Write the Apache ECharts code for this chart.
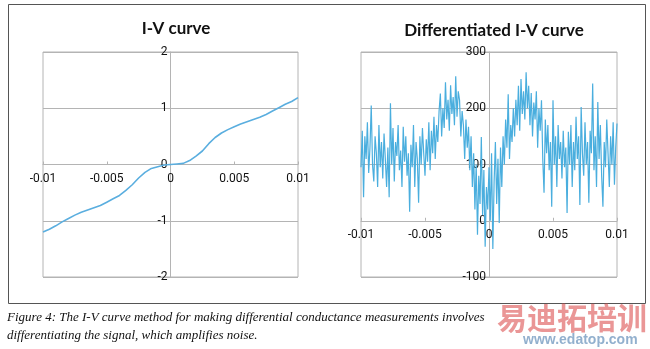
<!DOCTYPE html>
<html><head><meta charset="utf-8">
<script src="https://cdn.jsdelivr.net/npm/echarts@6/dist/echarts.min.js"></script>
<style>html,body{margin:0;padding:0;background:#fff}#c{width:650px;height:349px}</style>
</head><body><div id="c"></div>
<script>
// I-V curve (x in V, y in arbitrary units)
var ivX = [-0.01,-0.0095,-0.009,-0.0085,-0.008,-0.0075,-0.007,-0.0065,-0.006,-0.0055,-0.005,-0.0045,-0.004,-0.0035,-0.003,-0.0025,-0.002,-0.0015,-0.001,-0.0005,0,0.0005,0.001,0.0015,0.002,0.0025,0.003,0.0035,0.004,0.0045,0.005,0.0055,0.006,0.0065,0.007,0.0075,0.008,0.0085,0.009,0.0095,0.01];
var ivY = [-1.20,-1.15,-1.09,-1.02,-0.96,-0.90,-0.85,-0.81,-0.77,-0.73,-0.67,-0.61,-0.55,-0.46,-0.36,-0.24,-0.14,-0.07,-0.04,-0.01,0.00,0.01,0.02,0.07,0.15,0.24,0.37,0.48,0.56,0.62,0.67,0.72,0.76,0.80,0.84,0.89,0.95,1.01,1.07,1.12,1.19];
// Differentiated I-V curve, sampled every 0.0001 from -0.01 to 0.01
var dStart = -0.01, dStep = 0.0001;
var dY = [
95,160,42,150,110,175,85,130,205,100,
70,150,120,60,170,95,140,75,155,110,
60,130,42,209,100,165,70,140,115,170,
90,125,60,167,105,150,80,120,16,135,
95,170,60,140,110,32,150,100,165,120,
80,145,105,175,90,160,120,185,110,170,
140,195,226,150,200,165,246,180,215,160,
241,190,220,170,257,185,230,214,150,195,
170,110,180,130,167,90,150,60,120,20,
100,-25,80,30,149,10,90,-46,60,20,
95,0,120,-50,70,140,30,110,-4,130,
60,150,100,180,130,225,110,170,140,200,
150,215,170,240,160,252,190,230,180,264,
200,240,170,227,150,210,180,230,130,200,
160,214,110,50,180,120,170,90,140,25,
214,100,150,60,170,110,140,75,160,95,
130,14,158,100,170,60,140,90,185,110,
150,28,202,120,80,175,100,140,32,160,
120,244,90,150,60,211,110,170,80,25,
140,95,180,120,60,150,100,175,64,130,173];
var xTicks = {min:-0.01, max:0.01, interval:0.005};
var leftY = {min:-2, max:2, interval:1};
var rightY = {min:-100, max:300, interval:100};
var titles = ['I-V curve','Differentiated I-V curve'];
var caption1 = 'Figure 4: The I-V curve method for making differential conductance measurements involves';
var caption2 = 'differentiating the signal, which amplifies noise.';

var ivData = ivX.map(function(x,i){return [x, ivY[i]];});
var dData = dY.map(function(v,i){return [+(dStart + i*dStep).toFixed(4), v];});

var gray = '#b4b4b4';
var font = 'Roboto, Lato, sans-serif';
var gridH = 225, gridW1 = 255, gridW2 = 256;
// offset of the x axis from the grid bottom so that it sits at y = 0
function zeroOffset(r){return -gridH * (0 - r.min) / (r.max - r.min);}
function xAx(gi, r){return {type:'value', gridIndex:gi, position:'bottom', offset:zeroOffset(r), min:xTicks.min, max:xTicks.max, interval:xTicks.interval,
  axisLine:{onZero:false, lineStyle:{color:gray, width:1}}, axisTick:{show:true, length:3, inside:true, lineStyle:{color:gray}},
  splitLine:{show:false}, axisLabel:{color:'#111', fontSize:12, fontFamily:font, margin:8}};}
function yAx(gi, r, w){return {type:'value', gridIndex:gi, position:'left', offset:-w/2, min:r.min, max:r.max, interval:r.interval,
  axisLine:{show:true, onZero:false, lineStyle:{color:gray, width:1}}, axisTick:{show:false},
  splitLine:{show:true, lineStyle:{color:gray, width:1}}, axisLabel:{color:'#111', fontSize:12, fontFamily:font, margin:3}};}

var chart = echarts.init(document.getElementById('c'));
chart.setOption({
  animation:false,
  backgroundColor:'#fff',
  title:[
    {text:titles[0], left:171, top:15, textAlign:'center', textStyle:{fontSize:17, fontWeight:'bold', color:'#111', fontFamily:'Lato, sans-serif'}},
    {text:titles[1], left:489, top:17, textAlign:'center', textStyle:{fontSize:17, fontWeight:'bold', color:'#111', fontFamily:'Lato, sans-serif'}}
  ],
  grid:[
    {left:43, right:352, top:52, bottom:72, show:true, borderColor:gray, borderWidth:1},
    {left:361, right:33, top:52, bottom:72, show:true, borderColor:gray, borderWidth:1}
  ],
  xAxis:[xAx(0, leftY), xAx(1, rightY)],
  yAxis:[yAx(0,leftY,gridW1), yAx(1,rightY,gridW2)],
  series:[
    {type:'line', xAxisIndex:0, yAxisIndex:0, data:ivData, showSymbol:false, smooth:false, lineStyle:{color:'#5aaedf', width:1.6}},
    {type:'line', xAxisIndex:1, yAxisIndex:1, data:dData, showSymbol:false, lineStyle:{color:'#4aaede', width:1.2}}
  ],
  graphic:[
    {type:'rect', shape:{x:8.5, y:4.5, width:637, height:299}, style:{fill:'none', stroke:'#555', lineWidth:1}, z:-1},
    {type:'text', left:7, top:311, style:{text:caption1, font:'italic 13px "Liberation Serif", serif', fill:'#111'}},
    {type:'text', left:7, top:329, style:{text:caption2, font:'italic 13px "Liberation Serif", serif', fill:'#111'}},
    {type:'text', left:497, top:303, style:{text:'易迪拓培训', font:'bold 30px "Noto Sans CJK SC", sans-serif', fill:'rgba(220,80,80,0.6)'}, z:10},
    {type:'text', left:523, top:333, style:{text:'www.edatop.com', font:'bold 14px "Liberation Sans", sans-serif', fill:'rgba(110,150,190,0.75)'}, z:10}
  ]
});
</script></body></html>
